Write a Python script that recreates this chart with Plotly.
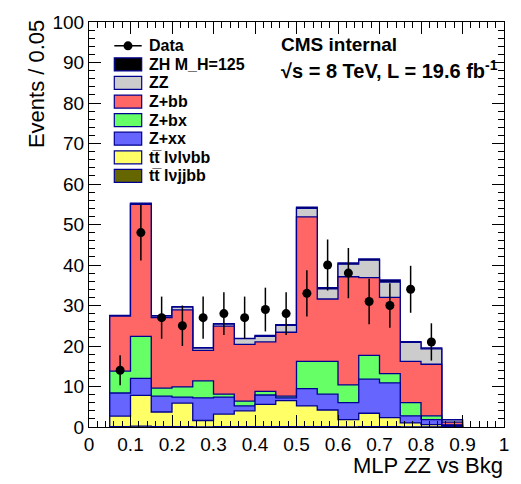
import numpy as np
import plotly.graph_objects as go

# ---------------- data ----------------
bin_edges = [0.05, 0.10, 0.15, 0.20, 0.25, 0.30, 0.35, 0.40, 0.45, 0.50,
             0.55, 0.60, 0.65, 0.70, 0.75, 0.80, 0.85, 0.90]

tt_lvjjbb = [0.1, 0.2, 0.1, 0.1, 0.0, 0.1, 0.1, 0.1, 0.1, 0.1, 0.1, 0.0, 0.1, 0.1, 0.05, 0.05, 0.02]
tt_lvlvbb = [2.6, 7.6, 3.6, 5.8, 1.6, 3.1, 3.9, 5.5, 6.4, 5.1, 4.1, 1.8, 3.3, 2.2, 0.95, 0.55, 0.13]
z_xx      = [5.7, 4.2, 3.9, 1.5, 5.6, 4.2, 1.2, 2.3, 0.7, 4.3, 3.9, 4.2, 8.4, 8.6, 1.75, 1.2, 0.25]
z_bx      = [5.4, 10.4, 2.0, 2.5, 4.2, 0.7, 1.2, 0.9, 0.4, 6.7, 8.1, 4.4, 5.9, 2.3, 3.25, 0.95, 0.1]
z_bb      = [13.6, 32.6, 17.4, 19.0, 7.5, 16.8, 14.0, 12.2, 15.8, 35.7, 15.4, 26.7, 19.2, 18.8, 10.2, 12.75, 0.7]
zz        = [0.1, 0.1, 0.4, 0.7, 0.6, 0.5, 1.4, 1.4, 1.7, 2.1, 2.5, 3.1, 4.3, 3.8, 4.7, 3.8, 0.55]
zh_125    = [0.05, 0.2, 0.1, 0.1, 0.1, 0.1, 0.1, 0.2, 0.2, 0.3, 0.3, 0.3, 0.3, 0.5, 0.2, 0.2, 0.05]

data_x   = [0.075, 0.125, 0.175, 0.225, 0.275, 0.325, 0.375, 0.425, 0.475,
            0.525, 0.575, 0.625, 0.675, 0.725, 0.775, 0.825]
data_y   = [14, 48, 27, 25, 27, 28, 27, 29, 28, 33, 40, 38, 31, 30, 34, 21]
data_err = [3.7, 6.9, 5.2, 5.0, 5.2, 5.3, 5.2, 5.4, 5.3, 5.7, 6.3, 6.2, 5.6, 5.5, 5.8, 4.6]

legend_labels = ["Data", "ZH M_H=125", "ZZ", "Z+bb", "Z+bx", "Z+xx",
                 "tt\u0305 l\u03bdl\u03bdbb", "tt\u0305 l\u03bdjjbb"]

# ---------------- styles ----------------
FONT = "Liberation Sans, Arial, Helvetica, sans-serif"
OUTLINE = "#00008f"
colors = {
    "zh": "#000000", "zz": "#cccccc", "zbb": "#ff6666", "zbx": "#66ff66",
    "zxx": "#6666ff", "ttll": "#ffff66", "ttlj": "#666600",
}

W, H = 521, 484
ML, MR, MT, MB = 89, 17, 13, 57
PW, PH = W - ML - MR, H - MT - MB


def xp(px):
    return (px - ML) / PW


def yp(py):
    return (H - MB - py) / PH


# stacked cumulative contents (bottom -> top)
stack_order = [("ttlj", tt_lvjjbb), ("ttll", tt_lvlvbb), ("zxx", z_xx),
               ("zbx", z_bx), ("zbb", z_bb), ("zz", zz), ("zh", zh_125)]
cum = np.cumsum(np.array([v for _, v in stack_order]), axis=0)

lower = bin_edges[:-1]


def step_xy(vals):
    vals = list(vals)
    x = [bin_edges[0]] + lower + [bin_edges[-1], bin_edges[-1]]
    y = [0] + vals + [vals[-1], 0]
    return x, y


fig = go.Figure()

# draw from top of stack down so lower components overlay upper
for idx in range(len(stack_order) - 1, -1, -1):
    key = stack_order[idx][0]
    x, y = step_xy(cum[idx])
    fig.add_trace(go.Scatter(
        x=x, y=y, mode="lines", line=dict(color=OUTLINE, width=1.3, shape="hv"),
        fill="tozeroy", fillcolor=colors[key], showlegend=False, hoverinfo="skip"))

fig.add_trace(go.Scatter(
    x=data_x, y=data_y, mode="markers",
    marker=dict(color="black", size=9, symbol="circle"),
    error_y=dict(type="data", array=data_err, color="black", thickness=1.5, width=0),
    showlegend=False))

# ---------------- manual legend ----------------
shapes = []
annotations = []
row0, drow = 37.3, 19.0
box_x0, box_x1, box_h = 114.3, 141.7, 13.3
legend_fill = ["zh", "zz", "zbb", "zbx", "zxx", "ttll", "ttlj"]
for k, lab in enumerate(legend_labels):
    cy = row0 + drow * k
    if k == 0:
        shapes.append(dict(type="line", xref="paper", yref="paper",
                           x0=xp(box_x0), x1=xp(box_x1), y0=yp(cy), y1=yp(cy),
                           line=dict(color="black", width=1.5)))
        cx = (box_x0 + box_x1) / 2
        shapes.append(dict(type="circle", xref="paper", yref="paper",
                           x0=xp(cx - 4.5), x1=xp(cx + 4.5), y0=yp(cy + 4.5), y1=yp(cy - 4.5),
                           fillcolor="black", line=dict(color="black", width=0)))
    else:
        shapes.append(dict(type="rect", xref="paper", yref="paper",
                           x0=xp(box_x0), x1=xp(box_x1),
                           y0=yp(cy + box_h / 2), y1=yp(cy - box_h / 2),
                           fillcolor=colors[legend_fill[k - 1]],
                           line=dict(color=OUTLINE, width=1.2)))
    annotations.append(dict(xref="paper", yref="paper", x=xp(146.5), y=yp(cy),
                            xanchor="left", yanchor="middle", showarrow=False,
                            text="<b>%s</b>" % lab,
                            font=dict(family=FONT, size=16, color="black")))

annotations.append(dict(xref="paper", yref="paper", x=xp(279), y=yp(36.5),
                        xanchor="left", yanchor="middle", showarrow=False,
                        text="<b>CMS internal</b>",
                        font=dict(family=FONT, size=19, color="black")))
annotations.append(dict(xref="paper", yref="paper", x=xp(279), y=yp(62),
                        xanchor="left", yanchor="middle", showarrow=False,
                        text="<b>\u221as = 8 TeV, L = 19.6 fb<sup>-1</sup></b>",
                        font=dict(family=FONT, size=20, color="black")))

annotations.append(dict(xref="paper", yref="paper", x=xp(505), y=yp(466),
                        xanchor="right", yanchor="middle", showarrow=False,
                        text="MLP ZZ vs Bkg",
                        font=dict(family=FONT, size=22, color="black")))
annotations.append(dict(xref="paper", yref="paper", x=xp(36), y=yp(9),
                        xanchor="center", yanchor="top", showarrow=False,
                        text="Events / 0.05", textangle=-90,
                        font=dict(family=FONT, size=22, color="black")))

axis_common = dict(showline=True, linecolor="black", linewidth=1,
                   ticks="inside", tickcolor="black", showgrid=False, zeroline=False,
                   tickfont=dict(family=FONT, size=19, color="black"))

fig.update_layout(
    width=W, height=H, autosize=False,
    margin=dict(l=ML, r=MR, t=MT, b=MB, pad=0),
    paper_bgcolor="white", plot_bgcolor="white",
    shapes=shapes, annotations=annotations, showlegend=False,
    xaxis=dict(range=[0, 1], dtick=0.1, tick0=0, ticklen=12,
               minor=dict(dtick=0.02, ticklen=6, ticks="inside", tickcolor="black"),
               **axis_common),
    yaxis=dict(range=[0, 100], dtick=10, tick0=0, ticklen=12,
               minor=dict(dtick=2, ticklen=6, ticks="inside", tickcolor="black"),
               **axis_common),
    xaxis2=dict(range=[0, 1], dtick=0.1, tick0=0, ticklen=12, overlaying="x", side="top",
                showticklabels=False, matches="x",
                minor=dict(dtick=0.02, ticklen=6, ticks="inside", tickcolor="black"),
                **axis_common),
    yaxis2=dict(range=[0, 100], dtick=10, tick0=0, ticklen=12, overlaying="y", side="right",
                showticklabels=False, matches="y",
                minor=dict(dtick=2, ticklen=6, ticks="inside", tickcolor="black"),
                **axis_common),
)

# invisible trace so the mirrored (top/right) axes are rendered
fig.add_trace(go.Scatter(x=[0.5], y=[50], xaxis="x2", yaxis="y2", mode="markers",
                         marker=dict(opacity=0), showlegend=False, hoverinfo="skip"))

fig.write_html("out.html")
